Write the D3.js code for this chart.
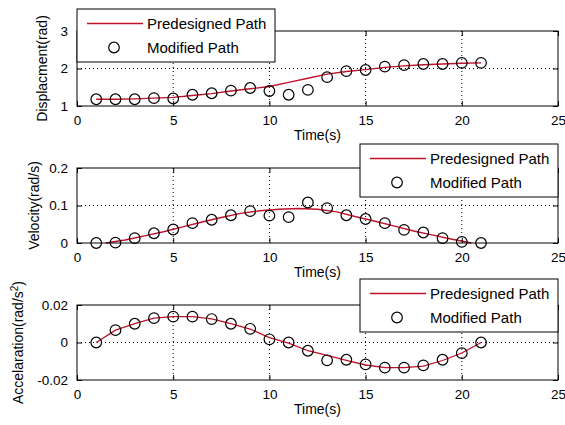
<!DOCTYPE html>
<html><head><meta charset="utf-8">
<script src="https://cdn.jsdelivr.net/npm/d3@7/dist/d3.min.js"></script>
<style>body{margin:0;background:#fff} text{font-family:Arial,"Liberation Sans",sans-serif;fill:#000}</style>
</head><body><svg id="c" width="565" height="425"></svg>
<script>
// ---- data ----
const timeSteps = [1,2,3,4,5,6,7,8,9,10,11,12,13,14,15,16,17,18,19,20,21];
const predDisp = [1.18,1.18,1.19,1.21,1.23,1.28,1.33,1.40,1.46,1.52,1.63,1.74,1.85,1.92,1.97,2.03,2.07,2.10,2.12,2.14,2.15];
const modDisp  = [1.18,1.18,1.18,1.21,1.20,1.30,1.34,1.41,1.48,1.40,1.30,1.43,1.77,1.93,1.96,2.05,2.09,2.12,2.12,2.15,2.15];
const velTime  = [1.5,2.5,3.5,4.5,5.5,6.5,7.5,8.5,9.5,10.5,11.5,12.5,13.5,14.5,15.5,16.5,17.5,18.5,19.5,20.5];
const predVel  = [0.0,0.008,0.019,0.030,0.043,0.056,0.068,0.079,0.086,0.090,0.092,0.090,0.083,0.070,0.058,0.045,0.032,0.021,0.010,0.0];
const modVel   = [0.0,0.001,0.013,0.026,0.036,0.053,0.062,0.074,0.085,0.073,0.069,0.108,0.093,0.074,0.064,0.053,0.035,0.028,0.013,0.003,0.0];
const predAcc  = [0,0.0066,0.0101,0.0130,0.0138,0.0138,0.0126,0.0101,0.0072,0.0026,-0.0003,-0.0044,-0.0069,-0.0095,-0.0120,-0.0134,-0.0134,-0.0126,-0.0096,-0.0056,0];
const modAcc   = [0,0.0066,0.0100,0.0130,0.0138,0.0138,0.0125,0.0100,0.0073,0.0017,0.0,-0.0044,-0.0095,-0.0092,-0.0117,-0.0134,-0.0134,-0.0122,-0.0092,-0.0057,0];
const xTicks = [0,5,10,15,20,25];
const dispTicks = [1,2,3], dispLabels = ["1","2","3"];
const velTicks = [0,0.1,0.2], velLabels = ["0","0.1","0.2"];
const accTicks = [-0.02,0,0.02], accLabels = ["-0.02","0","0.02"];
const seriesNames = ["Predesigned Path","Modified Path"];

// ---- layout ----
const svg = d3.select("#c");
const L = 77, R = 558, H = 75;
const RED = "#c0102a";
const x = d3.scaleLinear().domain([0,25]).range([L,R]);

const panels = [
  {top:31, domain:[1,3], ticks:dispTicks, labels:dispLabels, predX:timeSteps, pred:predDisp, mod:modDisp,
   title:"Displacment(rad)", titleX:42, legend:{x:77,y:9}},
  {top:168, domain:[0,0.2], ticks:velTicks, labels:velLabels, predX:velTime, pred:predVel, mod:modVel,
   title:"Velocity(rad/s)", titleX:34, legend:{x:360,y:144}},
  {top:305, domain:[-0.02,0.02], ticks:accTicks, labels:accLabels, predX:timeSteps, pred:predAcc, mod:modAcc,
   title:"Accelaration(rad/s", sup:"2", titleX:18, legend:{x:360,y:279}}
];

panels.forEach(p => {
  const y = d3.scaleLinear().domain(p.domain).range([p.top+H, p.top]);
  const g = svg.append("g");
  const bottom = p.top + H;
  // grid
  xTicks.filter(t => t>0 && t<25).forEach(t => {
    g.append("line").attr("x1",x(t)).attr("x2",x(t)).attr("y1",p.top).attr("y2",bottom)
      .attr("stroke","#000").attr("stroke-width",1).attr("stroke-dasharray","1,3");
  });
  p.ticks.slice(1,-1).forEach(t => {
    g.append("line").attr("x1",L).attr("x2",R).attr("y1",y(t)).attr("y2",y(t))
      .attr("stroke","#000").attr("stroke-width",1).attr("stroke-dasharray","1,3");
  });
  // line
  g.append("path").datum(p.pred.map((v,i)=>[p.predX[i],v]))
    .attr("d", d3.line().x(d=>x(d[0])).y(d=>y(d[1])))
    .attr("fill","none").attr("stroke",RED).attr("stroke-width",1.3);
  // markers
  g.selectAll("circle.m").data(p.mod).enter().append("circle")
    .attr("cx",(d,i)=>x(timeSteps[i])).attr("cy",d=>y(d)).attr("r",5.3)
    .attr("fill","none").attr("stroke","#000").attr("stroke-width",1.2);
  // box
  g.append("rect").attr("x",L).attr("y",p.top).attr("width",R-L).attr("height",H)
    .attr("fill","none").attr("stroke","#000").attr("stroke-width",1);
  // axes (inward ticks)
  const xb = d3.axisBottom(x).tickValues(xTicks).tickSizeInner(-5).tickSizeOuter(0).tickPadding(9);
  const ax = g.append("g").attr("transform",`translate(0,${bottom})`).call(xb);
  const xt = g.append("g").attr("transform",`translate(0,${p.top})`).call(d3.axisTop(x).tickValues(xTicks).tickSizeInner(-5).tickSizeOuter(0).tickFormat(""));
  const yl = d3.axisLeft(y).tickValues(p.ticks).tickFormat((d,i)=>p.labels[i]).tickSizeInner(-5).tickSizeOuter(0).tickPadding(9);
  const ay = g.append("g").attr("transform",`translate(${L},0)`).call(yl);
  const yr = g.append("g").attr("transform",`translate(${R},0)`).call(d3.axisRight(y).tickValues(p.ticks).tickSizeInner(-5).tickSizeOuter(0).tickFormat(""));
  [ax,xt,ay,yr].forEach(a => {
    a.select(".domain").remove();
    a.selectAll("line").attr("stroke","#000");
    a.selectAll("text").attr("font-size",13.5).attr("font-family","Arial,'Liberation Sans',sans-serif").attr("fill","#000");
  });
  // x title
  g.append("text").attr("x",(L+R)/2).attr("y",bottom+34).attr("text-anchor","middle")
    .attr("font-size",14).text("Time(s)");
  // y title
  const yt = g.append("text").attr("transform",`translate(${p.titleX},${p.top+H/2}) rotate(-90)`)
    .attr("text-anchor","middle").attr("dy","0.35em").attr("font-size",14).text(p.title);
  if (p.sup) {
    yt.append("tspan").attr("baseline-shift","super").attr("font-size",10).text(p.sup);
    yt.append("tspan").text(")");
  }
  // legend
  const lg = svg.append("g").attr("transform",`translate(${p.legend.x},${p.legend.y})`);
  lg.append("rect").attr("x",0).attr("y",0).attr("width",198).attr("height",53)
    .attr("fill","#fff").attr("stroke","#000").attr("stroke-width",1);
  lg.append("line").attr("x1",10).attr("x2",66).attr("y1",14.5).attr("y2",14.5)
    .attr("stroke",RED).attr("stroke-width",1.3);
  lg.append("circle").attr("cx",37).attr("cy",38.5).attr("r",5.3)
    .attr("fill","none").attr("stroke","#000").attr("stroke-width",1.2);
  lg.append("text").attr("x",70).attr("y",14.5).attr("dy","0.35em").attr("font-size",15).text(seriesNames[0]);
  lg.append("text").attr("x",70).attr("y",38.5).attr("dy","0.35em").attr("font-size",15).text(seriesNames[1]);
});
</script></body></html>
